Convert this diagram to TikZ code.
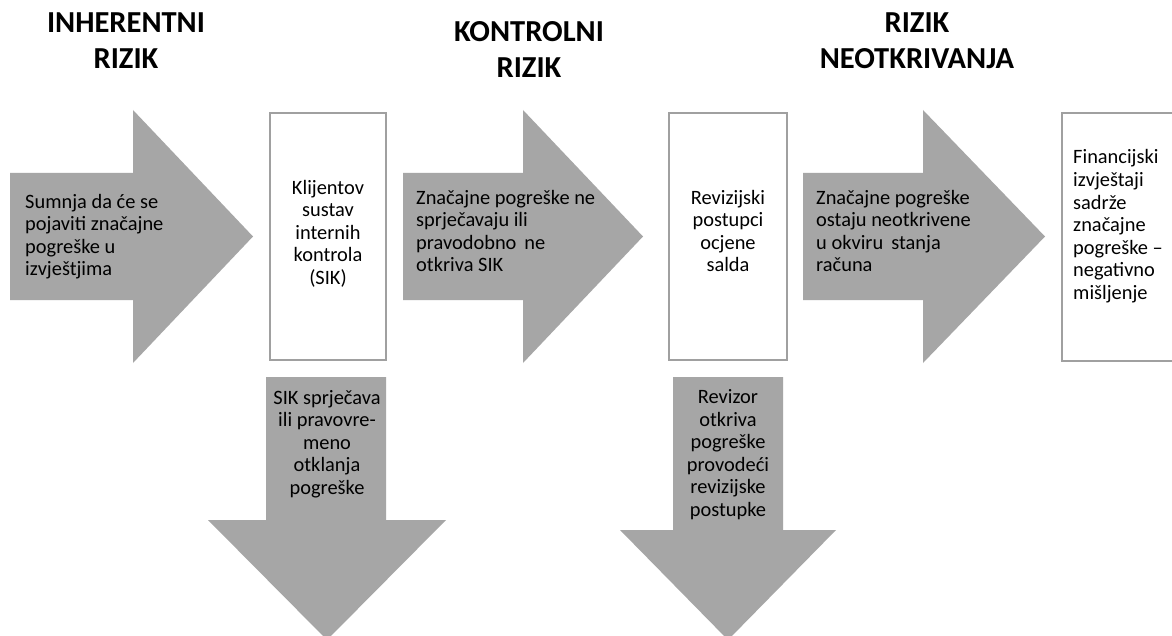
\documentclass[tikz,border=0pt]{standalone}
\usepackage{fontspec}
\setmainfont{Carlito}
\definecolor{arrowgray}{HTML}{A6A6A6}
\definecolor{boxgray}{HTML}{A0A0A0}
\tikzset{
  bigarrow/.style={fill=arrowgray, draw=none},
  framebox/.style={draw=boxgray, line width=2pt, fill=white},
  body/.style={inner sep=0pt, font=\fontsize{20.4}{22.5}\selectfont, text=black},
  title/.style={inner sep=0pt, align=center, font=\fontsize{30.5}{35.5}\selectfont\bfseries, text=black}
}
\begin{document}
\begin{tikzpicture}[x=1pt,y=-1pt]
\useasboundingbox (0,0) rectangle (1172,636);
\clip (0,0) rectangle (1172,636);
\fill[white] (0,0) rectangle (1172,636);
% titles (anchor base = baseline of last line)
\node[title, anchor=base] (t1) at (126,68.5) {INHERENTNI\\RIZIK};
\node[title, anchor=base] (t2) at (529,77.5) {KONTROLNI\\RIZIK};
\node[title, anchor=base] (t3) at (917,68.5) {RIZIK\\NEOTKRIVANJA};
% right arrows
\path[bigarrow] (10,173) -- (133,173) -- (133,110) -- (253,236.5) -- (133,363) -- (133,300) -- (10,300) -- cycle;
\path[bigarrow] (403,173) -- (523,173) -- (523,110) -- (643,236.5) -- (523,363) -- (523,300) -- (403,300) -- cycle;
\path[bigarrow] (803,173) -- (923,173) -- (923,110) -- (1045,236.5) -- (923,363) -- (923,300) -- (803,300) -- cycle;
% down arrows
\path[bigarrow] (266,377) -- (386,377) -- (386,520) -- (446,520) -- (327,640) -- (208,520) -- (266,520) -- cycle;
\path[bigarrow] (673,377) -- (783,377) -- (783,530) -- (836,530) -- (728,640) -- (620,530) -- (673,530) -- cycle;
% boxes
\draw[framebox] (270,113) rectangle (386,360);
\draw[framebox] (669,113) rectangle (787,360);
\draw[framebox] (1062,113) rectangle (1185,361);
% texts (anchor base = baseline of last line)
\node[body, align=left, anchor=base west] (a1) at (25,276) {Sumnja da će se\\pojaviti značajne\\pogreške u\\izvještjima};
\node[body, align=center, anchor=base] (b1) at (328,284) {Klijentov\\sustav\\internih\\kontrola\\(SIK)};
\node[body, align=left, anchor=base west] (a2) at (416,272) {Značajne pogreške ne\\sprječavaju ili\\pravodobno\, ne\\otkriva SIK};
\node[body, align=center, anchor=base] (b2) at (728,272) {Revizijski\\postupci\\ocjene\\salda};
\node[body, align=left, anchor=base west] (a3) at (816,272) {Značajne pogreške\\ostaju neotkrivene\\u okviru\, stanja\\računa};
\node[body, align=left, anchor=base west] (b3) at (1073,299) {Financijski\\izvještaji\\sadrže\\značajne\\pogreške –\\negativno\\mišljenje};
\node[body, align=center, anchor=base] (d1) at (327,494) {SIK sprječava\\ili pravovre-\\meno\\otklanja\\pogreške};
\node[body, align=center, anchor=base] (d2) at (728,516) {Revizor\\otkriva\\pogreške\\provodeći\\revizijske\\postupke};
\end{tikzpicture}
\end{document}
